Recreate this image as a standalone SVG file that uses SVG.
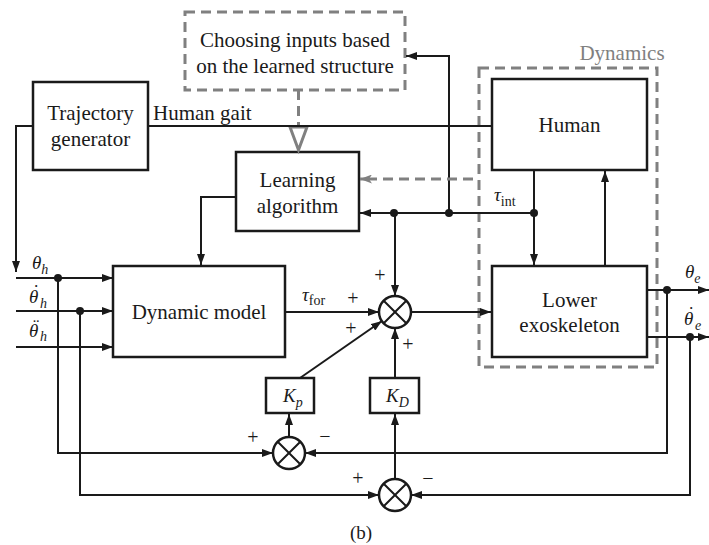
<svg xmlns="http://www.w3.org/2000/svg" width="709" height="545" viewBox="0 0 709 545" font-family="'Liberation Serif', 'DejaVu Serif', serif">
<defs>
<marker id="ah" markerUnits="userSpaceOnUse" markerWidth="11" markerHeight="8" refX="11" refY="4" orient="auto"><path d="M0,0 L11,4 L0,8 z" fill="#1a1a1a"/></marker>
<marker id="ahg" markerUnits="userSpaceOnUse" markerWidth="12" markerHeight="9" refX="12" refY="4.5" orient="auto"><path d="M0,0 L12,4.5 L0,9 L3,4.5 z" fill="#808080"/></marker>
</defs>
<style>
text{font-family:'Liberation Serif','DejaVu Serif',serif}
.box{fill:#fff;stroke:#1a1a1a;stroke-width:2.5}
.dbox{fill:none;stroke:#808080;stroke-width:3;stroke-dasharray:10 6}
.ln{fill:none;stroke:#1a1a1a;stroke-width:2}
.ar{marker-end:url(#ah)}
.gd{fill:none;stroke:#808080;stroke-width:3;stroke-dasharray:10 6}
.t{font-size:21px;fill:#1a1a1a;text-anchor:middle}
.m{font-size:19px;font-style:italic;fill:#1a1a1a}
.s{font-size:14px}
.ac{font-style:normal}
.sg{font-size:20px;fill:#1a1a1a;text-anchor:middle}
.dot{fill:#1a1a1a}
.sum{fill:#fff;stroke:#1a1a1a;stroke-width:2.5}
</style>

<g id="dynamics-group">
<rect class="dbox" x="479" y="68" width="178" height="299"/>
<text x="622" y="60" class="t" style="fill:#808080">Dynamics</text>
</g>

<g id="choosing">
<rect class="dbox" x="185" y="12" width="220" height="78"/>
<text x="295" y="47" class="t">Choosing inputs based</text>
<text x="295" y="73" class="t">on the learned structure</text>
</g>

<g id="trajectory">
<rect class="box" x="33" y="82" width="115" height="88"/>
<text x="90.5" y="120" class="t">Trajectory</text>
<text x="90.5" y="146" class="t">generator</text>
</g>

<g id="learning">
<rect class="box" x="236" y="152" width="123" height="79"/>
<text x="297.5" y="187" class="t">Learning</text>
<text x="297.5" y="213" class="t">algorithm</text>
</g>

<g id="human">
<rect class="box" x="492" y="79" width="155" height="91"/>
<text x="569.5" y="132" class="t">Human</text>
</g>

<g id="dynamic-model">
<rect class="box" x="113" y="266" width="172" height="91"/>
<text x="199" y="319" class="t">Dynamic model</text>
</g>

<g id="lower-exo">
<rect class="box" x="492" y="266" width="155" height="91"/>
<text x="569.5" y="307" class="t">Lower</text>
<text x="569.5" y="332" class="t">exoskeleton</text>
</g>

<g id="kp">
<rect class="box" x="266" y="378" width="48" height="35"/>
<text x="283" y="402" class="m">K<tspan class="s" dy="5">p</tspan></text>
</g>

<g id="kd">
<rect class="box" x="370" y="378" width="49" height="35"/>
<text x="386" y="402" class="m">K<tspan class="s" dy="5">D</tspan></text>
</g>

<g id="sum-main">
<circle class="sum" cx="395" cy="312" r="16"/>
<path class="ln" d="M383.7,300.7 L406.3,323.3 M406.3,300.7 L383.7,323.3"/>
</g>
<g id="sum-p">
<circle class="sum" cx="289" cy="453" r="16"/>
<path class="ln" d="M277.7,441.7 L300.3,464.3 M300.3,441.7 L277.7,464.3"/>
</g>
<g id="sum-d">
<circle class="sum" cx="395" cy="495" r="16"/>
<path class="ln" d="M383.7,483.7 L406.3,506.3 M406.3,483.7 L383.7,506.3"/>
</g>

<g id="connectors">
<polyline class="ln ar" points="33,126 16,126 16,272"/>
<line class="ln" x1="148" y1="126" x2="492" y2="126"/>
<line class="ln ar" x1="16" y1="278" x2="113" y2="278"/>
<line class="ln ar" x1="16" y1="311" x2="113" y2="311"/>
<line class="ln ar" x1="16" y1="347" x2="113" y2="347"/>
<polyline class="ln ar" points="58,278 58,453 273,453"/>
<polyline class="ln ar" points="80,311 80,495 379,495"/>
<polyline class="ln ar" points="236,197 201,197 201,265"/>
<line class="ln ar" x1="285" y1="312" x2="379" y2="312"/>
<line class="ln ar" x1="411" y1="312" x2="491" y2="312"/>
<line class="ln ar" x1="300" y1="378" x2="382" y2="321"/>
<line class="ln ar" x1="395" y1="378" x2="395" y2="328"/>
<line class="ln ar" x1="395" y1="213" x2="395" y2="296"/>
<line class="ln ar" x1="534" y1="213" x2="360" y2="213"/>
<polyline class="ln ar" points="449,213 449,56 406,56"/>
<line class="ln ar" x1="534" y1="170" x2="534" y2="265"/>
<line class="ln ar" x1="605" y1="266" x2="605" y2="171"/>
<line class="ln ar" x1="647" y1="290" x2="709" y2="290"/>
<line class="ln ar" x1="647" y1="337" x2="709" y2="337"/>
<polyline class="ln ar" points="667,290 667,453 305,453"/>
<polyline class="ln ar" points="690,337 690,495 411,495"/>
<line class="ln ar" x1="289" y1="437" x2="289" y2="414"/>
<line class="ln ar" x1="395" y1="479" x2="395" y2="414"/>
<line class="gd" x1="473" y1="179" x2="372" y2="179"/>
<line x1="372" y1="179" x2="360" y2="179" stroke="#808080" stroke-width="3" marker-end="url(#ahg)"/>
<line class="gd" x1="298.5" y1="90" x2="298.5" y2="128"/>
<polygon points="290,127 307,127 298.5,150" fill="#fff" stroke="#808080" stroke-width="3"/>
<line class="ln" x1="280" y1="126" x2="320" y2="126"/>
<circle class="dot" cx="58" cy="278" r="4"/>
<circle class="dot" cx="80" cy="311" r="4"/>
<circle class="dot" cx="394" cy="213" r="4"/>
<circle class="dot" cx="449" cy="213" r="4"/>
<circle class="dot" cx="534" cy="213" r="4"/>
<circle class="dot" cx="667" cy="290" r="4"/>
<circle class="dot" cx="690" cy="337" r="4"/>
</g>

<g id="labels">
<text x="153" y="120" class="t" style="text-anchor:start">Human gait</text>
<text x="32" y="269" class="m">θ<tspan class="s" dy="5">h</tspan></text>
<text x="29" y="303" class="m">θ<tspan class="ac" x="33" y="298">˙</tspan><tspan class="s" x="40" y="308">h</tspan></text>
<text x="29" y="337" class="m">θ<tspan class="ac" x="33" y="332">¨</tspan><tspan class="s" x="40" y="341">h</tspan></text>
<text x="302" y="301" class="m">τ<tspan class="s" dy="4" style="font-style:normal">for</tspan></text>
<text x="494" y="201" class="m">τ<tspan class="s" dy="5" style="font-style:normal">int</tspan></text>
<text x="685" y="278" class="m">θ<tspan class="s" dy="5">e</tspan></text>
<text x="684" y="325" class="m">θ<tspan class="ac" x="688" y="320">˙</tspan><tspan class="s" x="695" y="330">e</tspan></text>
<text x="380" y="282" class="sg">+</text>
<text x="353" y="305" class="sg">+</text>
<text x="351" y="335" class="sg">+</text>
<text x="408" y="351" class="sg">+</text>
<text x="253" y="444" class="sg">+</text>
<text x="325" y="443" class="sg">−</text>
<text x="358" y="485" class="sg">+</text>
<text x="428" y="485" class="sg">−</text>
<text x="361" y="539" class="t" style="font-size:19px">(b)</text>
</g>
</svg>
